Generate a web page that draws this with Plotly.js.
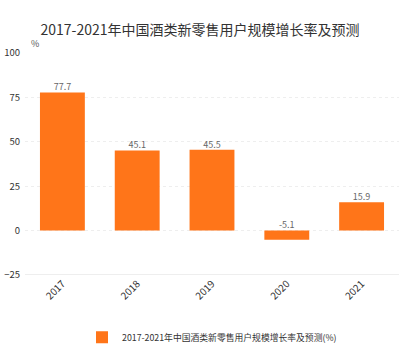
<!DOCTYPE html>
<html><head><meta charset="utf-8">
<script src="https://cdn.plot.ly/plotly-3.0.1.min.js"></script>
<style>html,body{margin:0;padding:0;background:#fff}#chart{width:400px;height:353px}</style>
</head><body><div id="chart"></div>
<script>
const years = ['2017', '2018', '2019', '2020', '2021'];
const growth = [77.7, 45.1, 45.5, -5.1, 15.9];
const seriesName = '2017-2021年中国酒类新零售用户规模增长率及预测(%)';
const titleText = '2017-2021年中国酒类新零售用户规模增长率及预测';
const yTicks = [-25, 0, 25, 50, 75, 100];

const font = "'Noto Sans CJK SC', 'Noto Sans', sans-serif";
const orange = '#FF7519';

const traces = [
  {type: 'bar', x: years, y: growth, name: seriesName, marker: {color: orange}, width: 0.6, hoverinfo: 'skip'},
  {type: 'scatter', mode: 'text', x: years, y: growth.map(v => Math.max(v, 0)),
   text: growth.map(v => v.toFixed(1)), textposition: 'top center',
   textfont: {size: 9, color: '#666', family: font}, showlegend: false, hoverinfo: 'skip'}
];

const layout = {
  width: 400, height: 353,
  margin: {l: 25, r: 1, t: 53, b: 76},
  paper_bgcolor: '#fff', plot_bgcolor: '#fff',
  font: {family: font, size: 10, color: '#333'},
  title: {text: titleText, x: 0.5, xanchor: 'center', y: 0.915, yanchor: 'middle', font: {size: 14, color: '#333', family: font}},
  bargap: 0.4,
  xaxis: {type: 'category', tickangle: -45, showgrid: false, zeroline: false, showline: false,
          ticks: '', tickfont: {size: 10, color: '#333'}},
  yaxis: {range: [-25, 100], tickvals: yTicks, showgrid: true, gridcolor: '#eeeeee', griddash: 'dot',
          zeroline: false, showline: false, ticks: '', tickfont: {size: 9.5, color: '#333'}, ticklabelstandoff: 4},
  shapes: [{type: 'line', xref: 'paper', yref: 'y', x0: 0, x1: 1, y0: -25, y1: -25, line: {color: '#dddddd', width: 1}}],
  annotations: [{text: '%', xref: 'paper', yref: 'paper', x: 0.01, y: 1.0, xanchor: 'left', yanchor: 'bottom', yshift: 1, showarrow: false, font: {size: 9, color: '#555'}}],
  showlegend: true,
  legend: {orientation: 'h', x: 0.5, xanchor: 'center', y: -0.28, yanchor: 'middle', itemwidth: 30, font: {size: 8.8, color: '#333'}}
};

Plotly.newPlot('chart', traces, layout, {displayModeBar: false, staticPlot: true});
</script></body></html>
